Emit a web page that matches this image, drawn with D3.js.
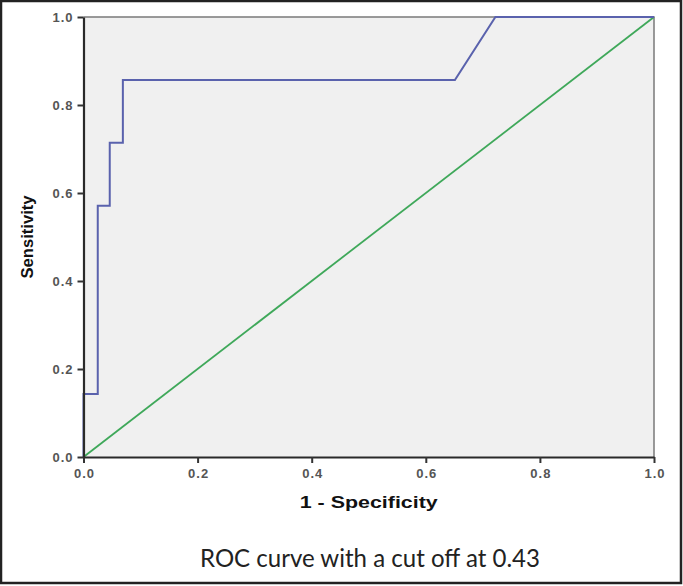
<!DOCTYPE html>
<html><head><meta charset="utf-8">
<script src="https://cdn.jsdelivr.net/npm/d3@7"></script>
<style>body{margin:0;background:#fff}svg{display:block}</style>
</head><body>
<script>
const fpr = [0, 0, 0.025, 0.025, 0.046, 0.046, 0.069, 0.069, 0.651, 0.722, 1];
const tpr = [0, 0.143, 0.143, 0.571, 0.571, 0.714, 0.714, 0.857, 0.857, 1, 1];
const refX = [0, 1];
const refY = [0, 1];
const tickValues = [0, 0.2, 0.4, 0.6, 0.8, 1.0];
const xTitle = "1 - Specificity";
const yTitle = "Sensitivity";
const caption = "ROC curve with a cut off at 0.43";

const W = 683, H = 586;
const svg = d3.select("body").append("svg").attr("width", W).attr("height", H);
svg.append("rect").attr("x",0).attr("y",0).attr("width",W).attr("height",H).attr("fill","#fff");

const x = d3.scaleLinear().domain([0,1]).range([83.5, 654]);
const y = d3.scaleLinear().domain([0,1]).range([457, 17]);

svg.append("rect").attr("x", x(0)).attr("y", y(1)).attr("width", x(1)-x(0)).attr("height", y(0)-y(1))
  .attr("fill", "#f0f0f0");
svg.append("path").attr("d", `M${x(0)},${y(1)}H${x(1)}V${y(0)}`).attr("fill","none")
  .attr("stroke","#7a7a7a").attr("stroke-width",1.5);

svg.append("path").datum(refX.map((v,i)=>[v, refY[i]]))
  .attr("d", d3.line().x(d=>x(d[0])).y(d=>y(d[1])))
  .attr("fill","none").attr("stroke","#3fa85a").attr("stroke-width",1.8);

svg.append("path").datum(fpr.map((v,i)=>[v, tpr[i]]))
  .attr("d", d3.line().x(d=>x(d[0])).y(d=>y(d[1])))
  .attr("fill","none").attr("stroke","#5a62ad").attr("stroke-width",2);

const xAxis = d3.axisBottom(x).tickValues(tickValues).tickFormat(d3.format(".1f")).tickSize(6).tickSizeOuter(0);
const yAxis = d3.axisLeft(y).tickValues(tickValues).tickFormat(d3.format(".1f")).tickSize(6).tickSizeOuter(0);
const gx = svg.append("g").attr("transform", `translate(0,${y(0)})`).call(xAxis);
const gy = svg.append("g").attr("transform", `translate(${x(0)},0)`).call(yAxis);
[gx, gy].forEach(g => {
  g.select(".domain").attr("stroke","#2a2a2a").attr("stroke-width",2.2);
  g.selectAll(".tick line").attr("stroke","#333").attr("stroke-width",2);
  g.selectAll(".tick text").attr("fill","#555").attr("font-family","Liberation Sans, Arial, sans-serif")
    .attr("font-weight","bold").attr("font-size","13px").attr("letter-spacing","1px");
});
gx.selectAll(".tick text").attr("dy","0.95em").attr("y",9).attr("dx","0.5px");
gy.selectAll(".tick text").attr("x",-10);

svg.append("text").attr("x", (x(0)+x(1))/2).attr("y", 508).attr("text-anchor","middle")
  .attr("font-family","Liberation Sans, Arial, sans-serif").attr("font-weight","bold").attr("font-size","17px")
  .attr("fill","#111").attr("textLength",138).attr("lengthAdjust","spacingAndGlyphs").text(xTitle);
svg.append("text").attr("transform", `translate(33,${(y(0)+y(1))/2}) rotate(-90)`).attr("text-anchor","middle")
  .attr("font-family","Liberation Sans, Arial, sans-serif").attr("font-weight","bold").attr("font-size","16px")
  .attr("fill","#111").attr("textLength",83).attr("lengthAdjust","spacingAndGlyphs").text(yTitle);

svg.append("text").attr("x", 370).attr("y", 567).attr("text-anchor","middle")
  .attr("font-family","Lato, 'Open Sans', sans-serif").attr("font-size","25px").attr("fill","#222")
  .attr("textLength", 340).attr("lengthAdjust","spacingAndGlyphs").text(caption);

svg.append("rect").attr("x",1).attr("y",1).attr("width",W-3).attr("height",H-4)
  .attr("fill","none").attr("stroke","#222").attr("stroke-width",2.5);
</script>
</body></html>
